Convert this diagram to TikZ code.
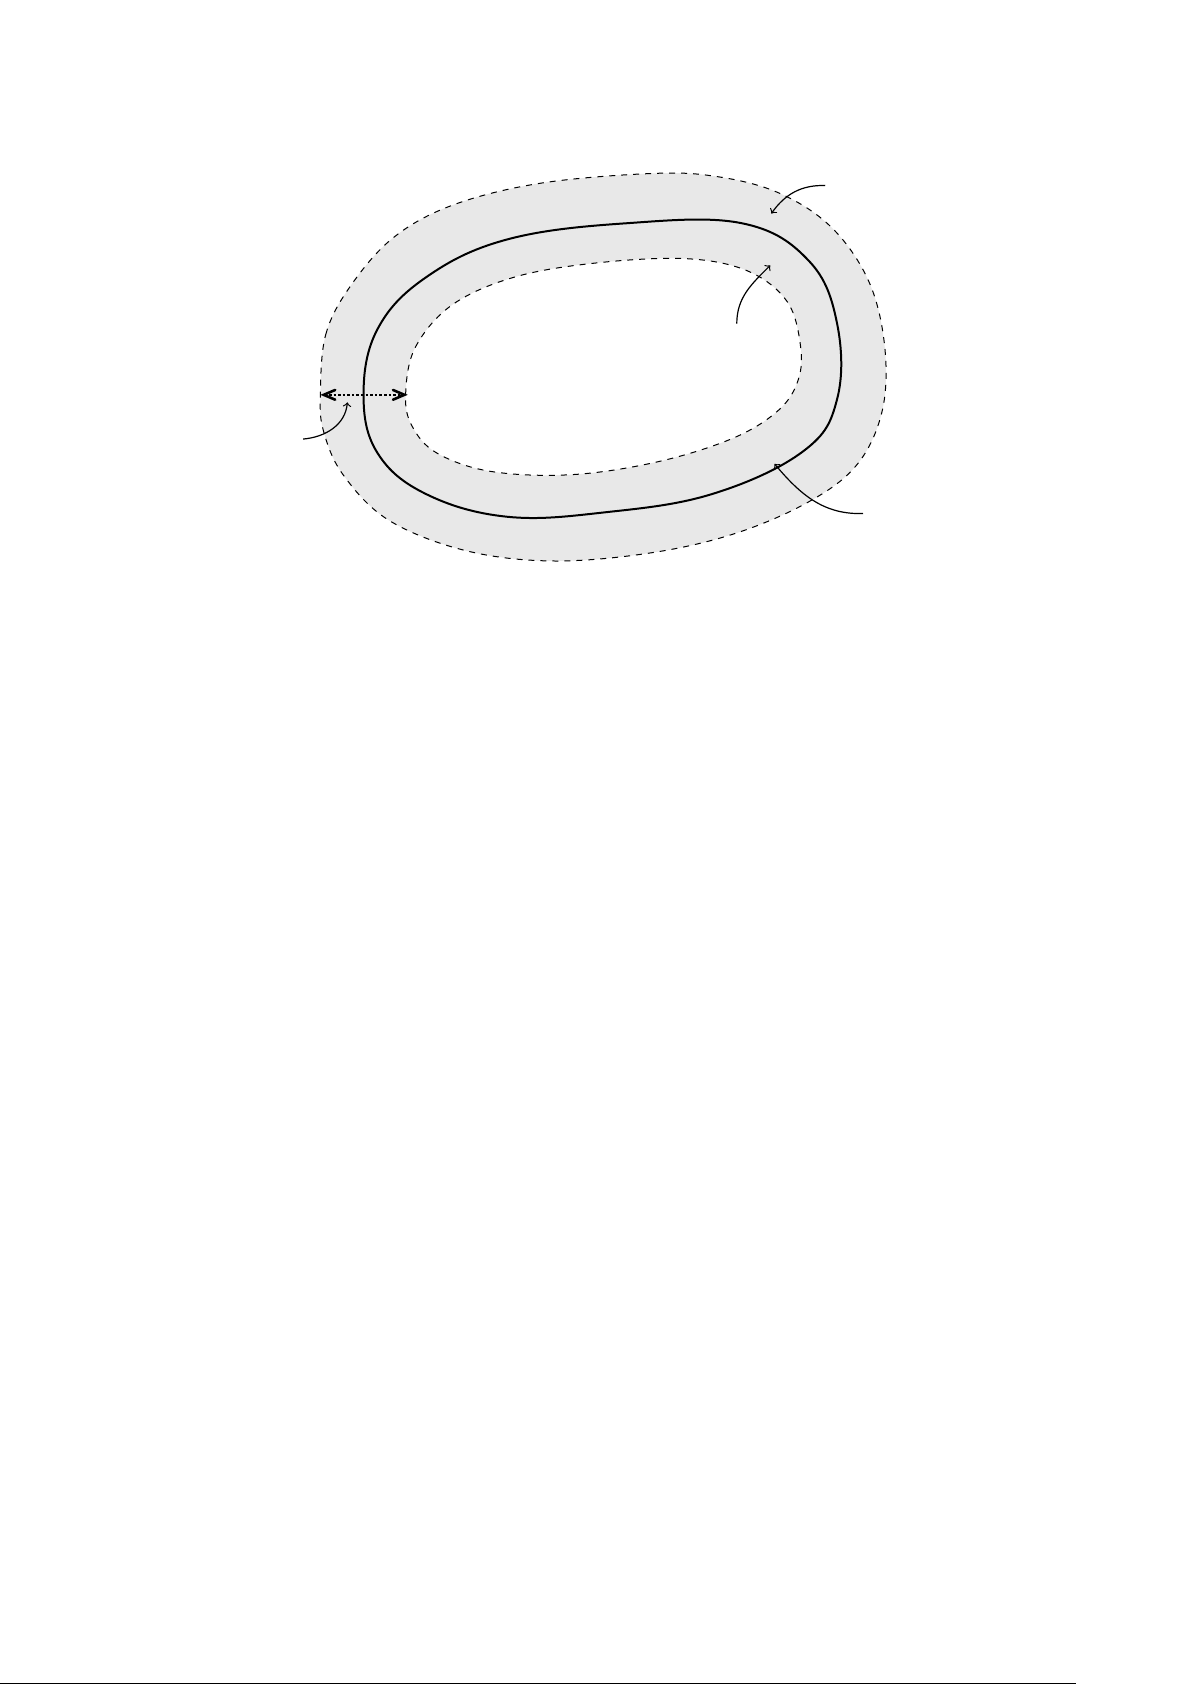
\documentclass[tikz,border=0pt]{standalone}
\usepackage{tikz}
\usetikzlibrary{arrows}

\begin{document}
\begin{tikzpicture}[x=0.019cm, y=0.019cm,
  band/.style = {fill=gray!18, even odd rule},
  edge/.style = {dashed, line width=0.5pt},
  curve/.style = {line width=1pt},
  pointer/.style = {->, line width=0.6pt}]
\useasboundingbox (0,0) rectangle (1105,-1562);
% shaded band between the two dashed curves
\fill[band] plot[smooth cycle, tension=0.6] coordinates {(297,-366) (302,-310) (325,-265) (365,-220) (420,-190) (500,-170) (600,-161) (660,-163) (720,-178) (770,-210) (805,-260) (820,-320) (818,-380) (795,-430) (750,-465) (680,-495) (600,-513) (510,-520) (430,-510) (360,-482) (318,-440) (300,-400)}
  plot[smooth cycle, tension=0.6] coordinates {(376,-366) (385,-322) (420,-282) (480,-256) (560,-243) (640,-240) (695,-252) (730,-280) (742,-320) (740,-352) (722,-380) (680,-406) (610,-428) (530,-440) (455,-437) (405,-420) (382,-395)};
\draw[edge] plot[smooth cycle, tension=0.6] coordinates {(297,-366) (302,-310) (325,-265) (365,-220) (420,-190) (500,-170) (600,-161) (660,-163) (720,-178) (770,-210) (805,-260) (820,-320) (818,-380) (795,-430) (750,-465) (680,-495) (600,-513) (510,-520) (430,-510) (360,-482) (318,-440) (300,-400)};
\draw[edge] plot[smooth cycle, tension=0.6] coordinates {(376,-366) (385,-322) (420,-282) (480,-256) (560,-243) (640,-240) (695,-252) (730,-280) (742,-320) (740,-352) (722,-380) (680,-406) (610,-428) (530,-440) (455,-437) (405,-420) (382,-395)};
% the solid curve in the middle of the band
\draw[curve] plot[smooth cycle, tension=0.65] coordinates {(337,-366) (350,-305) (395,-257) (470,-222) (580,-207) (688,-207) (750,-242) (776,-300) (776,-370) (745,-418) (660,-458) (560,-475) (470,-479) (395,-458) (350,-420)};

\coordinate (outL) at (297,-366);
\coordinate (inL) at (378,-366);
\coordinate (tA) at (765,-172);
\coordinate (hA) at (715,-198);
\coordinate (tB) at (683,-300);
\coordinate (hB) at (714,-246);
\coordinate (tC) at (281,-407);
\coordinate (hC) at (322,-373);
\coordinate (tD) at (800,-476);
\coordinate (hD) at (718,-430);

\draw[<->, >=angle 45, densely dotted, line width=1.3pt] (outL) -- (inL);
\draw[pointer] (tA) to[out=178, in=55] (hA);
\draw[pointer] (tB) to[out=90, in=225] (hB);
\draw[pointer] (tC) to[out=5, in=265] (hC);
\draw[pointer] (tD) to[out=182, in=-50] (hD);

\draw[line width=0.5pt] (0,-1561) -- (997,-1561);
\end{tikzpicture}
\end{document}
